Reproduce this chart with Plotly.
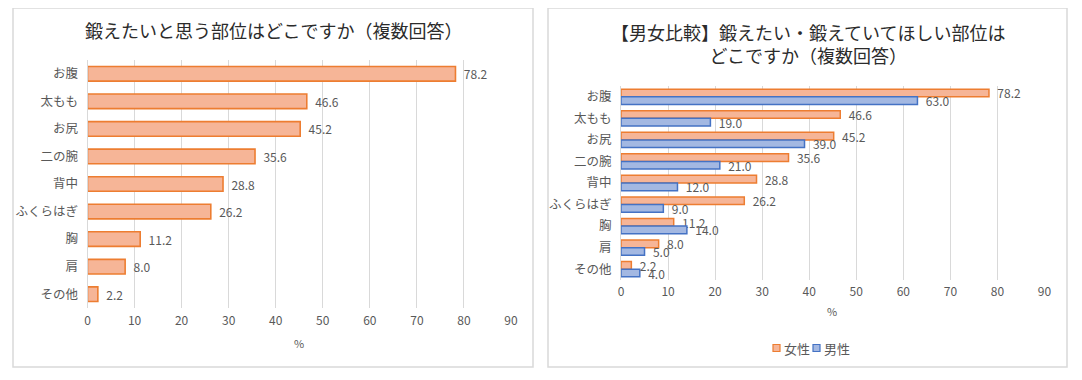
import plotly.graph_objects as go

OFF = 8  # default page body margin
W, H = 1082 - 2 * OFF, 380 - 2 * OFF  # figure fits the window exactly

categories = ["お腹", "太もも", "お尻", "二の腕", "背中", "ふくらはぎ", "胸", "肩", "その他"]
overall_values = [78.2, 46.6, 45.2, 35.6, 28.8, 26.2, 11.2, 8.0, 2.2]
female_values = [78.2, 46.6, 45.2, 35.6, 28.8, 26.2, 11.2, 8.0, 2.2]
male_values = [63.0, 19.0, 39.0, 21.0, 12.0, 9.0, 14.0, 5.0, 4.0]
x_ticks = [0, 10, 20, 30, 40, 50, 60, 70, 80, 90]
legend_names = ["女性", "男性"]

title_left = "鍛えたいと思う部位はどこですか（複数回答）"
title_right = "【男女比較】鍛えたい・鍛えていてほしい部位は<br>どこですか（複数回答）"

FONT = "Noto Sans CJK JP"
TXT = "#595959"
TITLE = "#2B2B2B"
GRID = "#D9D9D9"
F_FILL, F_LINE = "#F6B597", "#ED7D31"
M_FILL, M_LINE = "#A3B8E2", "#4472C4"
PAD = "\u00a0\u00a0"
PAIR_W = 0.355  # each bar's thickness in the comparison chart (category units)


def px(x):
    return (x - OFF) / W


def py(y):
    return 1 - (y - OFF) / H


fig = go.Figure()

fig.add_trace(go.Bar(
    y=categories, x=overall_values, orientation="h", name="全体",
    marker=dict(color=F_FILL, line=dict(color=F_LINE, width=1.6)),
    texttemplate=PAD + "%{x:.1f}", textposition="outside", constraintext="none",
    cliponaxis=False, textfont=dict(size=12, color=TXT, family=FONT),
    xaxis="x", yaxis="y", showlegend=False,
))

fig.add_trace(go.Bar(
    y=categories, x=female_values, orientation="h", name=legend_names[0],
    width=PAIR_W, offset=-PAIR_W,
    marker=dict(color=F_FILL, line=dict(color=F_LINE, width=1.5)),
    texttemplate=PAD + "%{x:.1f}", textposition="outside", constraintext="none",
    cliponaxis=False, textfont=dict(size=12, color=TXT, family=FONT),
    xaxis="x2", yaxis="y2", showlegend=False,
))
fig.add_trace(go.Bar(
    y=categories, x=male_values, orientation="h", name=legend_names[1],
    width=PAIR_W, offset=0,
    marker=dict(color=M_FILL, line=dict(color=M_LINE, width=1.5)),
    texttemplate=PAD + "%{x:.1f}", textposition="outside", constraintext="none",
    cliponaxis=False, textfont=dict(size=12, color=TXT, family=FONT),
    xaxis="x2", yaxis="y2", showlegend=False,
))

xcommon = dict(range=[0, 90], tickvals=x_ticks, showgrid=True, gridcolor=GRID,
               gridwidth=1, zeroline=False, showline=False, ticks="", automargin=False,
               tickfont=dict(size=12, color=TXT, family=FONT), fixedrange=True)
ycommon = dict(autorange="reversed", type="category", showgrid=False, zeroline=False,
               showline=True, linecolor=GRID, linewidth=1, ticks="", automargin=False,
               tickfont=dict(size=12.5, color=TXT, family=FONT), ticklabelstandoff=6)

# compact legend (square + label), like the reference
legend_shapes = []
legend_ann = []
leg_items = [(legend_names[0], F_FILL, F_LINE, 773), (legend_names[1], M_FILL, M_LINE, 813)]
for name, fill, line, lx in leg_items:
    legend_shapes.append(dict(type="rect", xref="paper", yref="paper",
                              x0=px(lx), x1=px(lx + 7), y0=py(351.5), y1=py(344.5),
                              line=dict(color=line, width=1.2), fillcolor=fill))
    legend_ann.append(dict(text=name, xref="paper", yref="paper", x=px(lx + 9), y=py(348),
                           xanchor="left", yanchor="middle", showarrow=False,
                           font=dict(size=13, color=TXT, family=FONT)))

fig.update_layout(
    width=W, height=H,
    margin=dict(l=0, r=0, t=0, b=0, autoexpand=False),
    paper_bgcolor="white", plot_bgcolor="white",
    font=dict(family=FONT, color=TXT),
    barmode="group",
    bargap=0.47,
    showlegend=False,
    xaxis=dict(domain=[px(87.5), px(511)], anchor="y", ticklabelstandoff=4, **xcommon),
    yaxis=dict(domain=[py(308), py(60)], anchor="x", **ycommon),
    xaxis2=dict(domain=[px(621), px(1044.5)], anchor="y2", ticklabelstandoff=3, **xcommon),
    yaxis2=dict(domain=[py(280), py(86)], anchor="x2", **ycommon),
    shapes=[
        dict(type="rect", xref="paper", yref="paper", x0=px(13), x1=px(533), y0=py(367), y1=py(8),
             line=dict(color=GRID, width=1.5), fillcolor="rgba(0,0,0,0)", layer="below"),
        dict(type="rect", xref="paper", yref="paper", x0=px(548), x1=px(1067), y0=py(367), y1=py(8),
             line=dict(color=GRID, width=1.5), fillcolor="rgba(0,0,0,0)", layer="below"),
    ] + legend_shapes,
    annotations=[
        dict(text=title_left, xref="paper", yref="paper", x=px(273), y=py(30), xanchor="center",
             yanchor="middle", showarrow=False, font=dict(size=18, color=TITLE, family=FONT)),
        dict(text=title_right, xref="paper", yref="paper", x=px(808), y=py(43), xanchor="center",
             yanchor="middle", showarrow=False, font=dict(size=18, color=TITLE, family=FONT)),
        dict(text="%", xref="paper", yref="paper", x=px(299), y=py(343), xanchor="center",
             yanchor="middle", showarrow=False, font=dict(size=11, color=TXT, family=FONT)),
        dict(text="%", xref="paper", yref="paper", x=px(832), y=py(311), xanchor="center",
             yanchor="middle", showarrow=False, font=dict(size=11, color=TXT, family=FONT)),
    ] + legend_ann,
)

fig.write_html("out.html")
